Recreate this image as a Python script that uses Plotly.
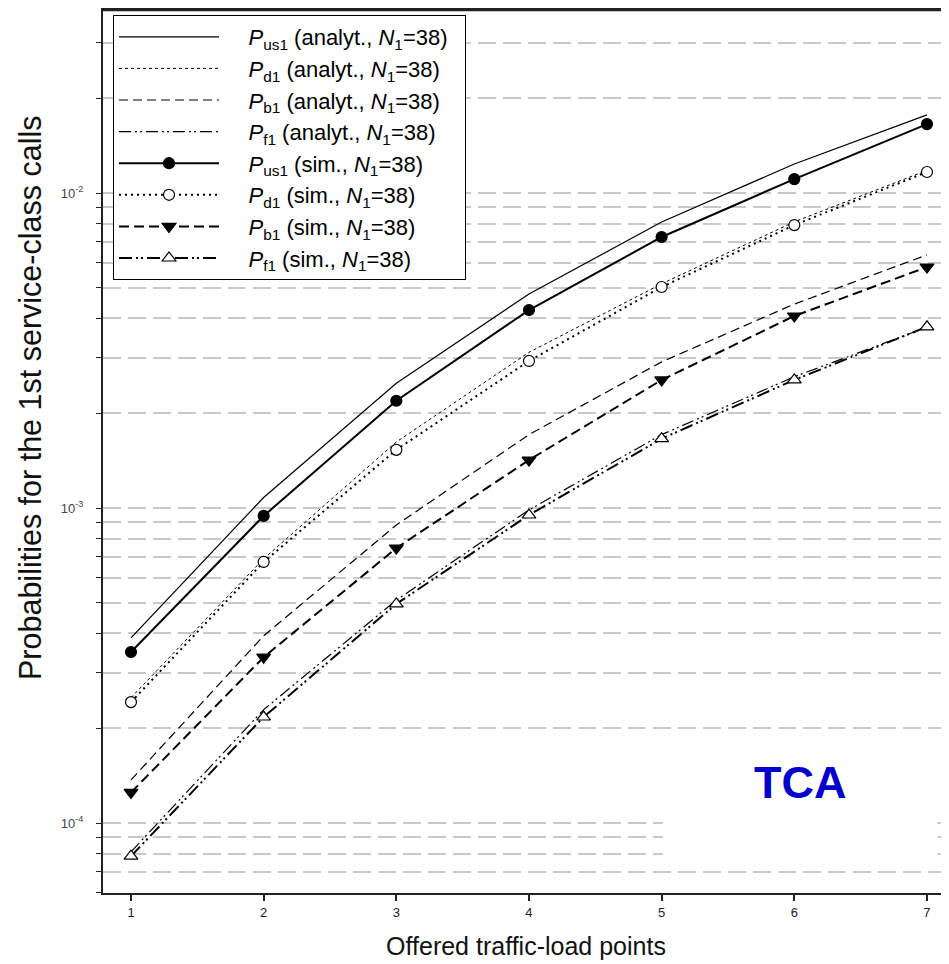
import numpy as np
import plotly.graph_objects as go

# ---------------- data ----------------
load_points = [1, 2, 3, 4, 5, 6, 7]

pus1_analyt = [3.87e-4, 1.08e-3, 2.49e-3, 4.78e-3, 8.09e-3, 1.236e-2, 1.77e-2]
pd1_analyt = [2.50e-4, 6.90e-4, 1.62e-3, 3.12e-3, 5.15e-3, 8.10e-3, 1.18e-2]
pb1_analyt = [1.37e-4, 3.93e-4, 8.83e-4, 1.71e-3, 2.91e-3, 4.44e-3, 6.36e-3]
pf1_analyt = [8.10e-5, 2.29e-4, 5.10e-4, 9.86e-4, 1.71e-3, 2.61e-3, 3.75e-3]

pus1_sim = [3.49e-4, 9.44e-4, 2.19e-3, 4.25e-3, 7.25e-3, 1.107e-2, 1.655e-2]
pd1_sim = [2.42e-4, 6.74e-4, 1.53e-3, 2.93e-3, 5.03e-3, 7.91e-3, 1.166e-2]
pb1_sim = [1.25e-4, 3.36e-4, 7.46e-4, 1.42e-3, 2.55e-3, 4.07e-3, 5.82e-3]
pf1_sim = [7.85e-5, 2.17e-4, 4.96e-4, 9.50e-4, 1.66e-3, 2.55e-3, 3.76e-3]

names_analyt = [
    "<i>P</i><sub>us1</sub> (analyt., <i>N</i><sub>1</sub>=38)",
    "<i>P</i><sub>d1</sub> (analyt., <i>N</i><sub>1</sub>=38)",
    "<i>P</i><sub>b1</sub> (analyt., <i>N</i><sub>1</sub>=38)",
    "<i>P</i><sub>f1</sub> (analyt., <i>N</i><sub>1</sub>=38)",
]
names_sim = [
    "<i>P</i><sub>us1</sub> (sim., <i>N</i><sub>1</sub>=38)",
    "<i>P</i><sub>d1</sub> (sim., <i>N</i><sub>1</sub>=38)",
    "<i>P</i><sub>b1</sub> (sim., <i>N</i><sub>1</sub>=38)",
    "<i>P</i><sub>f1</sub> (sim., <i>N</i><sub>1</sub>=38)",
]

y_decades = [1e-4, 1e-3, 1e-2]
y_decade_labels = ["10<sup>-4</sup>", "10<sup>-3</sup>", "10<sup>-2</sup>"]
annotation_text = "TCA"
x_title = "Offered traffic-load points"
y_title = "Probabilities for the 1st service-class calls"

# ---------------- styling ----------------
FONT = "Liberation Sans, Arial, sans-serif"
PAD = "&nbsp;" * 4
TAIL = "&nbsp;" * 2

fig = go.Figure()

analyt_series = [pus1_analyt, pd1_analyt, pb1_analyt, pf1_analyt]
analyt_dash = ["solid", "dot", "9px,5px", "12px,4px,2px,3px,2px,4px"]
analyt_width = [1.2, 1.0, 1.2, 1.2]
for vals, nm, dsh, w in zip(analyt_series, names_analyt, analyt_dash, analyt_width):
    fig.add_trace(go.Scatter(
        x=load_points, y=vals, name=PAD + nm + TAIL, mode="lines",
        line=dict(color="black", width=w, dash=dsh),
    ))

sim_series = [pus1_sim, pd1_sim, pb1_sim, pf1_sim]
sim_dash = ["solid", "2px,4px", "10px,5px", "13px,4px,2px,3px,2px,4px"]
sim_symbol = ["circle", "circle", "triangle-down", "triangle-up"]
sim_fill = ["black", "white", "black", "white"]
sim_size = [11, 11, 12, 12]
for vals, nm, dsh, sym, fc, sz in zip(sim_series, names_sim, sim_dash, sim_symbol, sim_fill, sim_size):
    fig.add_trace(go.Scatter(
        x=load_points, y=vals, name=PAD + nm + TAIL, mode="lines+markers",
        line=dict(color="black", width=2, dash=dsh),
        marker=dict(symbol=sym, size=sz, color=fc, line=dict(color="black", width=1.2)),
    ))

# y ticks at every 1..9 x decade (minor ticks unlabeled)
tickvals = []
ticktext = []
for e in range(-5, -1):
    for m in range(1, 10):
        v = m * 10.0 ** e
        tickvals.append(v)
        if m == 1 and v in y_decades:
            ticktext.append(y_decade_labels[y_decades.index(v)])
        else:
            ticktext.append("")

# The page has an 8px body margin; lay out in page coordinates.
OFF = 8
W, H = 949 - OFF, 964 - OFF
PL, PR, PT, PB = 103, 949, 10, 893          # plot area in page pixels
ml, mr, mt, mb = PL - OFF, 0, PT - OFF, H - (PB - OFF)
pw, ph = PR - PL, PB - PT
# decade 10^-2 sits at page y 193, one decade spans 315 px
y_top = -2 + (193 - PT) / 315
y_bot = -2 - (PB - 193) / 315


def px(x):
    return (x - PL) / pw


def py(y):
    return (PB - y) / ph


fig.update_layout(
    width=W, height=H,
    margin=dict(l=ml, r=mr, t=mt, b=mb, pad=0, autoexpand=False),
    paper_bgcolor="white", plot_bgcolor="white",
    font=dict(family=FONT, color="black"),
    showlegend=True,
    legend=dict(
        x=px(113), y=py(15), xanchor="left", yanchor="top",
        bgcolor="white", bordercolor="black", borderwidth=1,
        font=dict(size=22, family=FONT, color="black"),
        itemwidth=100, tracegroupgap=0,
    ),
    xaxis=dict(
        range=[0.789, 7.166], tickmode="array", tickvals=load_points,
        ticks="outside", ticklen=6, tickwidth=1.5, tickcolor="#222",
        showline=True, linecolor="#222", linewidth=2, mirror=True,
        showgrid=False, zeroline=False, automargin=False,
        tickfont=dict(size=13, color="#222"),
        title=dict(text=x_title, font=dict(size=25, family=FONT, color="#111"), standoff=19),
    ),
    yaxis=dict(
        type="log", range=[y_bot, y_top],
        tickmode="array", tickvals=tickvals, ticktext=ticktext,
        ticks="outside", ticklen=5, tickwidth=1.2, tickcolor="#222",
        showline=True, linecolor="#222", linewidth=2, automargin=False,
        showgrid=True, gridcolor="#c8c8c8", gridwidth=2, griddash="18px,7px",
        zeroline=False, ticklabelstandoff=10,
        tickfont=dict(size=13, color="#444"),
    ),
    shapes=[
        dict(
            type="rect", xref="x", yref="y", layer="between",
            x0=5.01, x1=7.08, y0=7.05e-5, y1=1.1e-4,
            fillcolor="white", line=dict(width=0),
        ),
        dict(
            type="line", xref="paper", yref="paper", layer="above",
            x0=0, x1=1, y0=1, y1=1,
            line=dict(color="#222", width=2.5),
        ),
    ],
    annotations=[
        dict(text="<b>" + annotation_text + "</b>", x=6.04, y=np.log10(1.34e-4), xref="x", yref="y",
             showarrow=False, font=dict(size=45, color="#0000cc", family=FONT),
             xanchor="center", yanchor="middle"),
        dict(text=y_title, x=px(30), y=py(398),
             xref="paper", yref="paper", textangle=-90, showarrow=False,
             font=dict(size=30.5, family=FONT, color="#111"),
             xanchor="center", yanchor="middle"),
    ],
)

fig.write_html("out.html")
